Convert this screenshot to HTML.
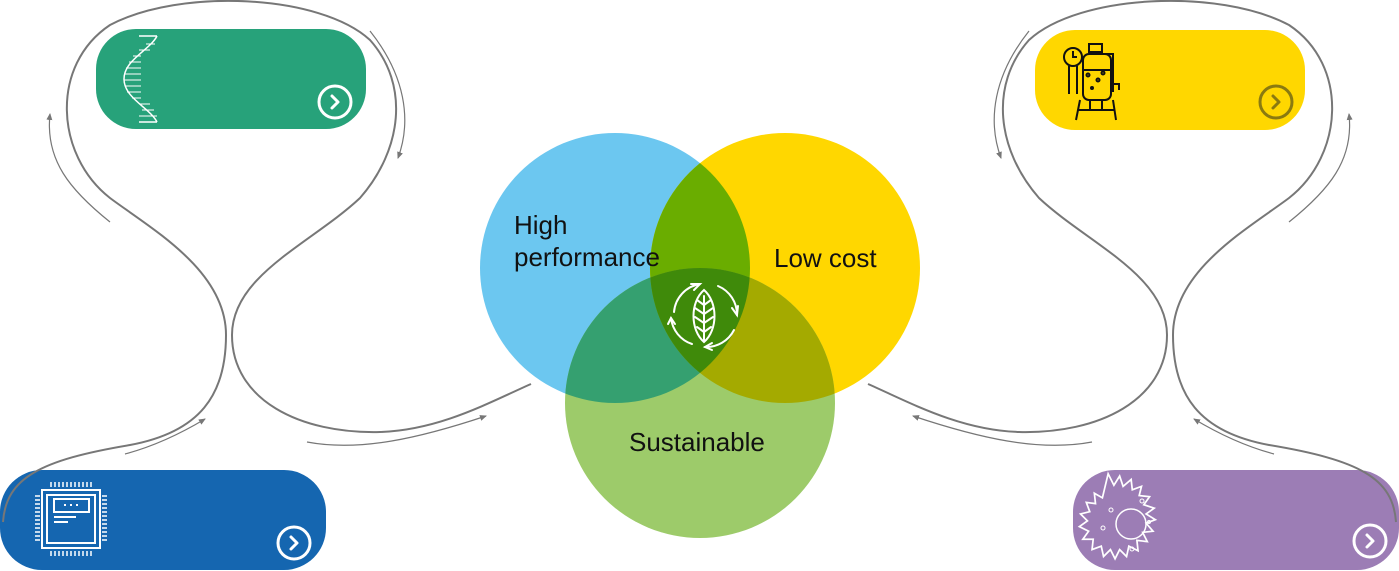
<!DOCTYPE html>
<html><head><meta charset="utf-8"><style>
html,body{margin:0;padding:0;background:#fff;}
svg{display:block}
text{font-family:"Liberation Sans",sans-serif;}
</style></head><body>
<svg width="1399" height="571" viewBox="0 0 1399 571" xmlns="http://www.w3.org/2000/svg">
<defs>
<marker id="ah" markerWidth="10" markerHeight="10" refX="6" refY="3" orient="auto" markerUnits="userSpaceOnUse"><path d="M0,0 L7,3 L0,6 Z" fill="#777"/></marker>
<clipPath id="cb"><circle cx="615" cy="268" r="135"/></clipPath>
<clipPath id="cy"><circle cx="785" cy="268" r="135"/></clipPath>
<g id="side">
<path d="M3,522 C6,478 40,460 130,445 C200,432 226,395 226,335 C226,270 150,228 110,198 C55,155 50,65 110,25 C180,-12 320,-6 370,40 C410,85 402,150 360,198 C312,243 232,275 232,335 C232,400 300,434 380,432 C440,430 490,402 531,384" fill="none" stroke="#777" stroke-width="2"/>
<path d="M110,222 C70,190 45,160 50,114" fill="none" stroke="#777" stroke-width="1.2" marker-end="url(#ah)"/>
<path d="M370,31 C405,75 412,120 398,158" fill="none" stroke="#777" stroke-width="1.2" marker-end="url(#ah)"/>
<path d="M125,454 C155,446 180,434 205,419" fill="none" stroke="#777" stroke-width="1.2" marker-end="url(#ah)"/>
<path d="M307,442 C360,452 420,438 486,416" fill="none" stroke="#777" stroke-width="1.2" marker-end="url(#ah)"/>
</g>
</defs>

<rect x="96" y="29" width="270" height="100" rx="40" fill="#27a27a"/>
<rect x="0" y="470" width="326" height="100" rx="42" fill="#1566b0"/>
<rect x="1035" y="30" width="270" height="100" rx="40" fill="#ffd700"/>
<rect x="1073" y="470" width="326" height="100" rx="42" fill="#9c7db5"/>

<use href="#side"/>
<use href="#side" transform="translate(1399,0) scale(-1,1)"/>

<g fill="none" stroke-width="3" stroke-linecap="round" stroke-linejoin="round">
<circle cx="335" cy="102" r="16" stroke="#fff"/><path d="M332,96 L338,102 L332,108" stroke="#fff"/>
<circle cx="294" cy="543" r="16" stroke="#fff"/><path d="M291,537 L297,543 L291,549" stroke="#fff"/>
<circle cx="1276" cy="102" r="16" stroke="#8a7a10"/><path d="M1273,96 L1279,102 L1273,108" stroke="#8a7a10"/>
<circle cx="1370" cy="541" r="16" stroke="#fff"/><path d="M1367,535 L1373,541 L1367,547" stroke="#fff"/>
</g>

<g stroke="#fff" stroke-width="1.5" fill="none">
<path d="M157,36 C150,50 124,60 124,79 C124,98 150,108 157,122"/>
<path d="M139,36 L157,36 M139,122 L157,122"/>
<g stroke-width="1">
<path d="M146,44 L155,44 M139,50 L150,50 M133,56 L141,56 M129,62 L141,62 M126,68 L141,68 M124,74 L141,74 M124,80 L141,80 M125,86 L141,86 M127,92 L141,92 M132,98 L141,98 M139,104 L150,104 M142,110 L154,110 M139,116 L157,116"/>
</g>
</g>

<g stroke="#fff" stroke-width="2" fill="none">
<rect x="42" y="490" width="58" height="58"/>
<rect x="47" y="495" width="48" height="48"/>
<rect x="54" y="499" width="35" height="13"/>
<path d="M64,505 h2 M70,505 h2 M76,505 h2 M54,517 h22 M54,522 h14"/>
<path d="M51,482 v5 M55,482 v5 M59,482 v5 M63,482 v5 M67,482 v5 M71,482 v5 M75,482 v5 M79,482 v5 M83,482 v5 M87,482 v5 M91,482 v5" stroke-width="1.5"/>
<path d="M51,551 v5 M55,551 v5 M59,551 v5 M63,551 v5 M67,551 v5 M71,551 v5 M75,551 v5 M79,551 v5 M83,551 v5 M87,551 v5 M91,551 v5" stroke-width="1.5"/>
<path d="M35,496 h5 M35,500 h5 M35,504 h5 M35,508 h5 M35,512 h5 M35,516 h5 M35,520 h5 M35,524 h5 M35,528 h5 M35,532 h5 M35,536 h5 M35,540 h5 M102,496 h5 M102,500 h5 M102,504 h5 M102,508 h5 M102,512 h5 M102,516 h5 M102,520 h5 M102,524 h5 M102,528 h5 M102,532 h5 M102,536 h5 M102,540 h5" stroke-width="1.5"/>
</g>

<g stroke="#111" stroke-width="2" fill="none">
<circle cx="1073" cy="57" r="9"/><path d="M1073,51 v6 h4"/>
<path d="M1069,66 v28 M1077,66 v28"/>
<rect x="1083" y="54" width="28" height="46" rx="6"/>
<rect x="1089" y="44" width="13" height="8"/>
<path d="M1100,54 h13 v38 M1083,70 h28"/>
<circle cx="1088" cy="75" r="1.5"/><circle cx="1098" cy="80" r="1.5"/><circle cx="1103" cy="73" r="1.5"/><circle cx="1092" cy="88" r="1"/>
<path d="M1080,100 l-4,20 M1113,100 l3,20 M1090,100 v10 h12 v-10 M1078,110 h36"/>
<path d="M1113,84 h6 v6"/>
</g>

<g stroke="#fff" stroke-width="1.5" fill="none">
<g transform="translate(1130,522) scale(1.15) translate(-1130,-522)">
<path d="M1111,480 l5,10 5,-8 3,9 7,-6 1,9 8,-3 -2,8 9,1 -5,7 9,3 -7,5 8,5 -8,3 6,7 -9,1 4,8 -9,-1 1,9 -8,-4 -2,9 -6,-6 -4,8 -4,-8 -6,6 -2,-9 -8,3 1,-9 -9,0 5,-7 -8,-4 7,-5 -6,-6 8,-2 -3,-8 8,1 -1,-9 7,4 z"/>
</g>
<circle cx="1131" cy="524" r="15"/>
<circle cx="1111" cy="510" r="2" stroke-width="1"/><circle cx="1142" cy="501" r="2" stroke-width="1"/><circle cx="1103" cy="528" r="2" stroke-width="1"/><circle cx="1132" cy="549" r="2" stroke-width="1"/><circle cx="1149" cy="522" r="1.5" stroke-width="1"/>
</g>

<circle cx="615" cy="268" r="135" fill="#6cc7f0"/>
<circle cx="785" cy="268" r="135" fill="#ffd700"/>
<circle cx="700" cy="403" r="135" fill="#9dcb6a"/>
<g clip-path="url(#cb)"><circle cx="785" cy="268" r="135" fill="#6aad00"/><circle cx="700" cy="403" r="135" fill="#35a070"/></g>
<g clip-path="url(#cy)"><circle cx="700" cy="403" r="135" fill="#a4aa00"/></g>
<g clip-path="url(#cb)"><g clip-path="url(#cy)"><circle cx="700" cy="403" r="135" fill="#3f8a0a"/></g></g>

<text x="514" y="234" font-size="26" fill="#111">High</text>
<text x="514" y="266" font-size="26" fill="#111">performance</text>
<text x="774" y="267" font-size="26" fill="#111">Low cost</text>
<text x="629" y="451" font-size="26" fill="#111">Sustainable</text>

<g stroke="#fff" stroke-width="2" fill="none" stroke-linecap="round">
<path d="M704,290 C690,302 690,330 704,342 C718,330 718,302 704,290 Z"/>
<path d="M704,296 V340 M704,305 l-7,-5 M704,305 l7,-5 M704,314 l-9,-6 M704,314 l9,-6 M704,323 l-9,-6 M704,323 l9,-6 M704,332 l-7,-5 M704,332 l7,-5"/>
<path d="M674,312 A31,31 0 0 1 700,284"/><path d="M691,284 L700,284 L694,290"/>
<path d="M718,286 A31,31 0 0 1 737,315"/><path d="M732,308 L737,315 L738,306"/>
<path d="M734,330 A31,31 0 0 1 705,347"/><path d="M712,343 L705,347 L712,350"/>
<path d="M692,344 A31,31 0 0 1 671,318"/><path d="M668,324 L671,318 L675,324"/>
</g>
</svg>
</body></html>
